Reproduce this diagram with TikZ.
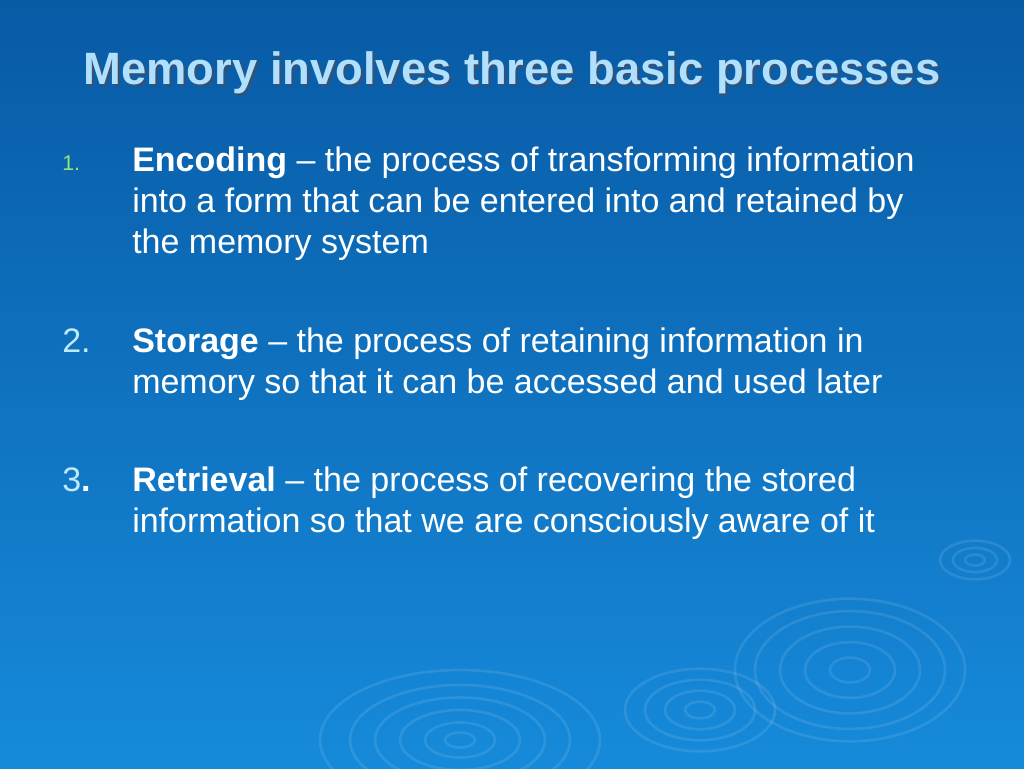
\documentclass[tikz,border=0pt]{standalone}
\usepackage{fontspec}
\setmainfont{Liberation Sans}
\begin{document}
\begin{tikzpicture}[x=0.75pt,y=-0.75pt,
  body/.style={anchor=base west,inner sep=0pt,text=white,font=\fontsize{25.5pt}{31pt}\selectfont,align=flush left,text width=600pt},
  num/.style={anchor=base west,inner sep=0pt,text=cyan!25!white,font=\fontsize{25.5pt}{31pt}\selectfont},
  ripple/.style={draw=white,opacity=0.10,line width=2pt}]
\shade[top color={rgb,255:red,8;green,90;blue,165},bottom color={rgb,255:red,22;green,138;blue,218}] (0,0) rectangle (1024,768);
\useasboundingbox (0,0) rectangle (1024,768);
% ripples
\foreach \r in {20,45,70,95,115}{\draw[ripple] (850,670) ellipse ({\r} and {\r*0.62});}
\foreach \r in {15,35,55,75}{\draw[ripple] (700,710) ellipse ({\r} and {\r*0.55});}
\foreach \r in {15,35,60,85,110,140}{\draw[ripple] (460,740) ellipse ({\r} and {\r*0.5});}
\foreach \r in {10,22,35}{\draw[ripple] (975,560) ellipse ({\r} and {\r*0.55});}
% title
\node[anchor=base,text={rgb,255:red,60;green,80;blue,110},font=\bfseries\fontsize{34pt}{40pt}\selectfont] at (514,86) {Memory involves three basic processes};
\node (title) [anchor=base,text={rgb,255:red,175;green,225;blue,255},font=\bfseries\fontsize{34pt}{40pt}\selectfont] at (512,84) {Memory involves three basic processes};
% items
\node (n1) [num,text={rgb,255:red,150;green,230;blue,120},font=\fontsize{16pt}{18pt}\selectfont] at (62,170) {1.};
\node (t1) [body] at (132,171) {\textbf{Encoding} -- the process of transforming information into a form that can be entered into and retained by the memory system};
\node (n2) [num] at (62,352) {2.};
\node (t2) [body] at (132,352) {\textbf{Storage} -- the process of retaining information in memory so that it can be accessed and used later};
\node (n3) [num] at (62,491) {3\textcolor{white}{\textbf{.}}};
\node (t3) [body] at (132,491) {\textbf{Retrieval} -- the process of recovering the stored information so that we are consciously aware of it};
\end{tikzpicture}
\end{document}
